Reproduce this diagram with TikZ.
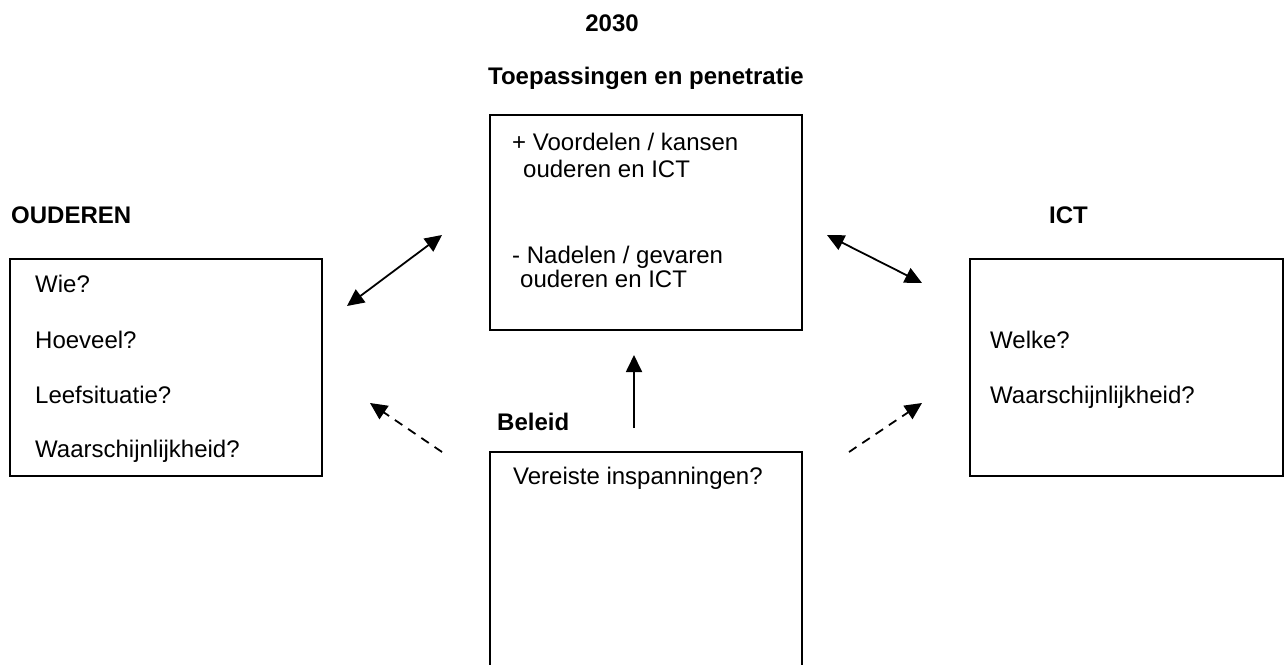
\documentclass[tikz,border=0pt]{standalone}
\usepackage{fontspec}
\setmainfont{Liberation Sans}
\usetikzlibrary{arrows.meta}
\begin{document}
\begin{tikzpicture}[x=1pt,y=-1pt,
  box/.style={draw, line width=1.6pt, rectangle, inner sep=0pt},
  txt/.style={anchor=base west, inner sep=0pt, font=\fontsize{24}{28}\selectfont},
  ttl/.style={inner sep=0pt, font=\fontsize{24}{28}\selectfont\bfseries},
  conn/.style={line width=1.8pt, {Triangle[length=17pt,width=16pt]}-{Triangle[length=17pt,width=16pt]}},
  up/.style={line width=1.8pt, -{Triangle[length=17pt,width=16pt]}},
  dsh/.style={line width=1.8pt, dash pattern=on 9pt off 7pt, -{Triangle[length=17pt,width=16pt]}}]
\useasboundingbox (0,0) rectangle (1284,664);
\clip (0,0) rectangle (1284,664);
% boxes
\node[box, minimum width=312pt, minimum height=215pt] (mid) at (646,222.5) {};
\node[box, minimum width=312pt, minimum height=217pt] (old) at (166,367.5) {};
\node[box, minimum width=313pt, minimum height=217pt] (ict) at (1126.5,367.5) {};
\node[box, minimum width=312pt, minimum height=240pt] (pol) at (646,572) {};
% titles
\node[ttl, anchor=base] (t2030) at (612,31) {2030};
\node[ttl, anchor=base] (ttoep) at (646,84) {Toepassingen en penetratie};
\node[ttl, anchor=base west] (touder) at (11,223) {OUDEREN};
\node[ttl, anchor=base west] (tict) at (1049,223) {ICT};
\node[ttl, anchor=base west] (tbel) at (497,430) {Beleid};
% mid box text
\node[txt] (m1) at (512,150) {+ Voordelen / kansen};
\node[txt] (m2) at (523,177) {ouderen en ICT};
\node[txt] (m3) at (512,263) {- Nadelen / gevaren};
\node[txt] (m4) at (520,287) {ouderen en ICT};
% left box text
\node[txt] (o1) at (35,292) {Wie?};
\node[txt] (o2) at (35,348) {Hoeveel?};
\node[txt] (o3) at (35,403) {Leefsituatie?};
\node[txt] (o4) at (35,457) {Waarschijnlijkheid?};
% right box text
\node[txt] (i1) at (990,348) {Welke?};
\node[txt] (i2) at (990,403) {Waarschijnlijkheid?};
% bottom box text
\node[txt] (p1) at (513,484) {Vereiste inspanningen?};
% connector end points
\coordinate (aL1) at (347,306);
\coordinate (aL2) at (442,235);
\coordinate (aR1) at (827,235);
\coordinate (aR2) at (922,283);
\coordinate (dL1) at (442,452);
\coordinate (dL2) at (370,403);
\coordinate (dR1) at (849,452);
\coordinate (dR2) at (922,403);
\coordinate (v1) at (634,428);
\coordinate (v2) at (634,355);
\draw[conn] (aL1) -- (aL2);
\draw[conn] (aR1) -- (aR2);
\draw[dsh] (dL1) -- (dL2);
\draw[dsh] (dR1) -- (dR2);
\draw[up] (v1) -- (v2);
\end{tikzpicture}
\end{document}
